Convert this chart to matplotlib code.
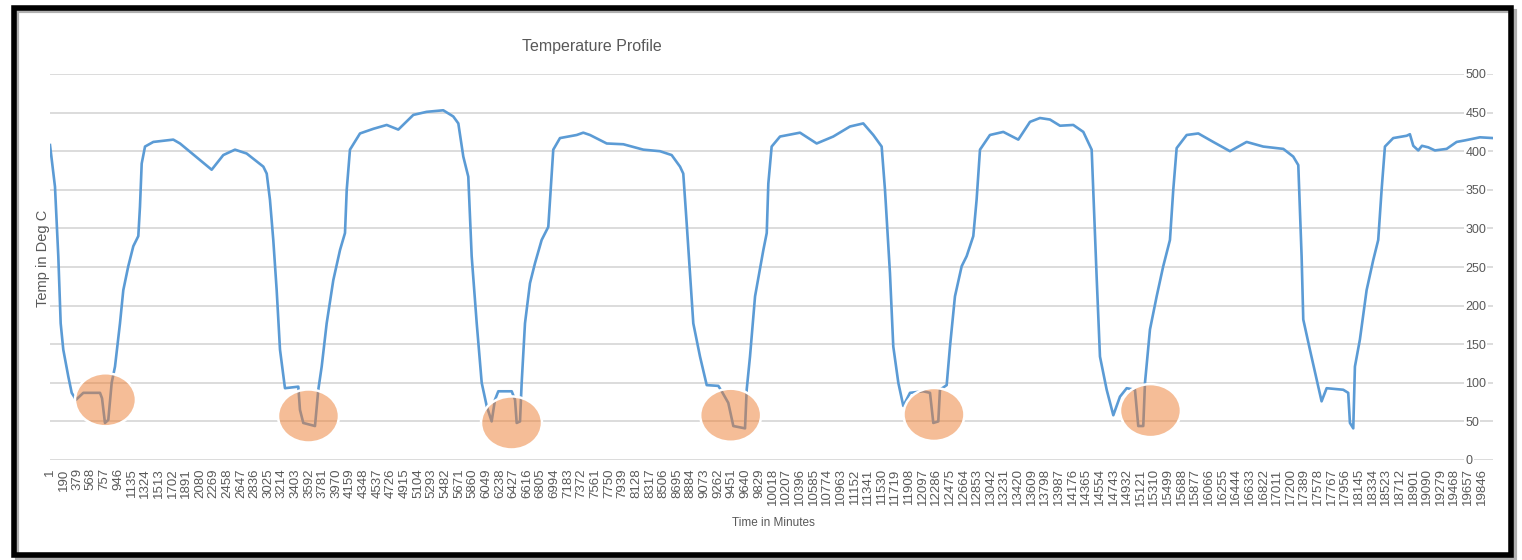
import numpy as np
import matplotlib.pyplot as plt
from matplotlib.patches import Ellipse, Rectangle

# temperature log (minute, deg C)
minutes = [1, 70, 116, 149, 185, 255, 302, 361, 463, 694, 722, 763, 809, 856,
           902, 971, 1017, 1086, 1156, 1225, 1248, 1272, 1318, 1433, 1710, 1803,
           2242, 2403, 2565, 2727, 2958, 3005, 3050, 3096, 3143, 3189, 3258,
           3443, 3466, 3512, 3674, 3720, 3767, 3836, 3928, 4021, 4090, 4114,
           4159, 4298, 4483, 4668, 4829, 5037, 5222, 5452, 5591, 5661, 5730,
           5799, 5846, 5916, 5985, 6054, 6123, 6169, 6215, 6401, 6447, 6470,
           6516, 6539, 6585, 6654, 6724, 6816, 6908, 6932, 6977, 7070, 7302,
           7393, 7486, 7718, 7948, 8225, 8456, 8618, 8734, 8779, 8826, 8872,
           8918, 9011, 9104, 9265, 9312, 9403, 9473, 9635, 9658, 9704, 9774,
           9889, 9936, 9958, 10004, 10120, 10397, 10628, 10858, 11090, 11274,
           11413, 11529, 11575, 11644, 11690, 11760, 11829, 11922, 12106,
           12199, 12245, 12314, 12337, 12430, 12476, 12545, 12638, 12707,
           12799, 12845, 12892, 13030, 13215, 13423, 13585, 13723, 13862,
           14001, 14185, 14324, 14440, 14462, 14509, 14555, 14648, 14740,
           14832, 14925, 15040, 15086, 15155, 15179, 15248, 15341, 15432,
           15525, 15571, 15618, 15757, 15918, 16125, 16357, 16588, 16818,
           17096, 17234, 17304, 17350, 17373, 17465, 17627, 17697, 17927,
           17996, 18020, 18066, 18089, 18158, 18251, 18343, 18412, 18459,
           18505, 18620, 18806, 18851, 18898, 18967, 19018, 19106, 19198,
           19360, 19499, 19614, 19822, 20002]
temp = [408, 354, 264, 177, 143, 108, 87, 78, 87, 87, 80, 48, 52, 100,
        121, 177, 220, 251, 277, 290, 328, 384, 406, 412, 415, 410,
        376, 395, 402, 397, 380, 371, 337, 285, 220, 143, 93,
        95, 65, 48, 44, 91, 121, 177, 233, 272, 294, 350,
        402, 423, 429, 434, 428, 447, 451, 453, 445, 436, 393,
        367, 264, 177, 100, 70, 50, 78, 89, 89, 78, 48,
        50, 100, 177, 229, 255, 285, 302, 337, 402, 417, 421,
        424, 421, 410, 409, 402, 400, 395, 380, 371, 307, 242,
        177, 134, 97, 96, 89, 74, 44, 41, 91, 134, 212,
        272, 294, 358, 406, 419, 424, 410, 419, 432, 436,
        421, 406, 350, 242, 147, 100, 70, 87, 89,
        87, 48, 50, 91, 97, 147, 212, 251, 264,
        290, 337, 402, 421, 425, 415, 438, 443, 441,
        433, 434, 425, 402, 350, 237, 134, 91, 58,
        82, 93, 91, 44, 44, 100, 169, 212, 251,
        285, 350, 404, 421, 423, 412, 400, 412, 406,
        403, 393, 382, 264, 182, 143, 76, 93, 91,
        87, 48, 41, 121, 156, 220, 259, 285, 350,
        406, 417, 420, 422, 407, 401, 407, 405, 401,
        403, 412, 414, 418, 417]

# category labels every 189 minutes
tick_minutes = list(range(1, 19847, 189))

# orange highlight rings around the cooling dips
ring_minutes = [770, 3584, 6398, 9436, 12254, 15255]
ring_temp = [78, 57, 48, 58, 59, 64]

plt.rcParams['font.family'] = ['Liberation Sans Narrow', 'Liberation Sans', 'DejaVu Sans']
gray_txt = '#595959'

fig = plt.figure(figsize=(15.22, 5.60), dpi=100)
fig.patch.set_facecolor('white')

# frame with a little shadow, like the pasted screenshot
fig.patches.append(Rectangle((17 / 1522, 1 - 559 / 560), 1498 / 1522, 548 / 560,
                             transform=fig.transFigure, facecolor='none',
                             edgecolor='#b0b0b0', lw=3, zorder=0))
fig.patches.append(Rectangle((14 / 1522, 1 - 555 / 560), 1497 / 1522, 547 / 560,
                             transform=fig.transFigure, facecolor='none',
                             edgecolor='black', lw=4, zorder=1))

ax = fig.add_axes([50 / 1522, 100 / 560, 1443 / 1522, 386 / 560])
ax.plot(minutes, temp, color='#5B9BD5', lw=1.9, solid_joinstyle='round', zorder=3)

for m, t in zip(ring_minutes, ring_temp):
    ax.add_patch(Ellipse((m, t), 845, 68.7, facecolor=(0.93, 0.49, 0.19, 0.5),
                         edgecolor='white', lw=1.8, zorder=4))

ax.set_xlim(1, 20003)
ax.set_ylim(0, 500)
ax.set_yticks(range(0, 501, 50))
ax.grid(axis='y', color='#D9D9D9', lw=1.3, zorder=0)
for s in ax.spines.values():
    s.set_visible(False)

ax.yaxis.tick_right()
ax.tick_params(axis='y', length=0, pad=-20, labelsize=9, labelcolor=gray_txt)
for lbl in ax.get_yticklabels():
    lbl.set_bbox(dict(facecolor='white', edgecolor='none', pad=1))

ax.set_xticks(tick_minutes)
ax.set_xticklabels([str(v) for v in tick_minutes], rotation=90)
ax.tick_params(axis='x', length=0, pad=6, labelsize=9.5, labelcolor=gray_txt)

fig.text(592 / 1522, 1 - 46 / 560, 'Temperature Profile', ha='center', va='center',
         fontsize=11.5, color=gray_txt)
fig.text(43 / 1522, 1 - 258 / 560, 'Temp in Deg C', ha='center', va='center',
         rotation=90, fontsize=10.5, color=gray_txt)
fig.text(773 / 1522, 1 - 523 / 560, 'Time in Minutes', ha='center', va='center',
         fontsize=8.5, color=gray_txt)

fig.savefig('out.png', dpi=100)
